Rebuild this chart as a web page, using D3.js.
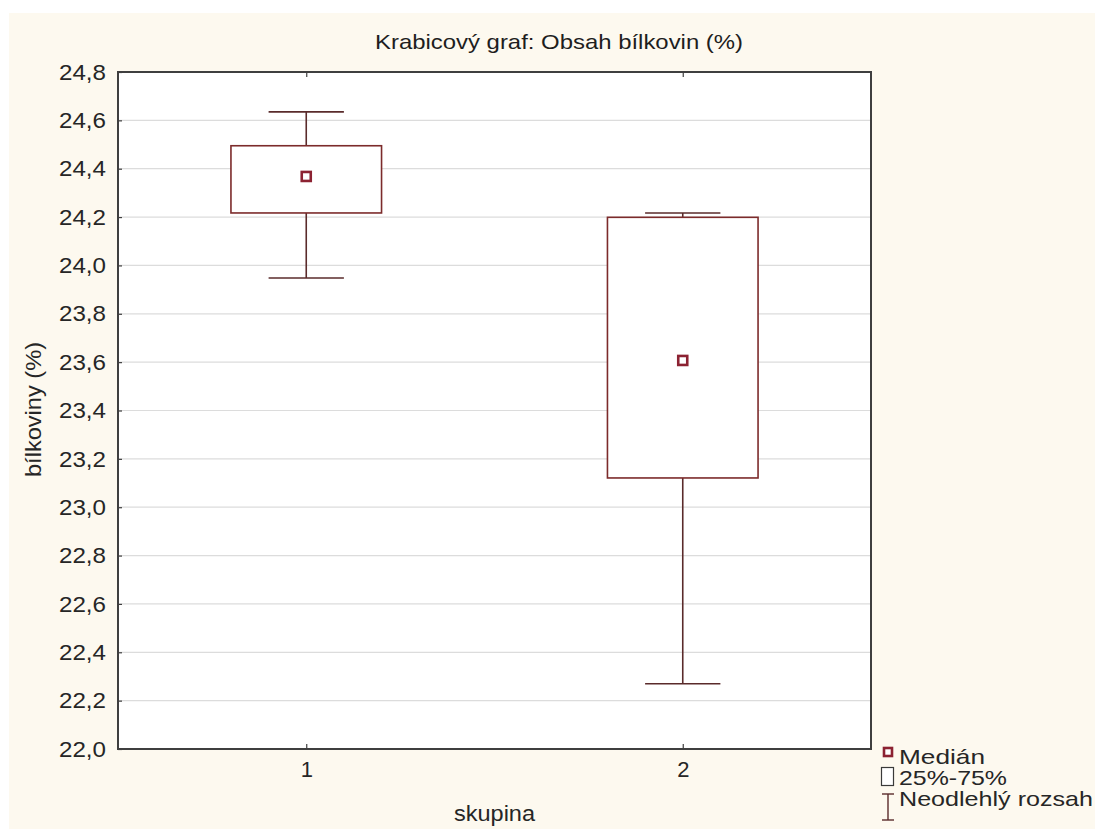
<!DOCTYPE html>
<html>
<head>
<meta charset="utf-8">
<script src="https://cdn.jsdelivr.net/npm/d3@7"></script>
<style>
  html, body { margin: 0; padding: 0; background: #ffffff; }
  svg { display: block; font-family: "Liberation Sans", Arial, sans-serif; }
</style>
</head>
<body>
<svg id="chart" width="1095" height="829"></svg>
<script>
// Group labels and box-plot statistics (bílkoviny, %)
const groups      = ["1", "2"];
const whiskerHigh = [24.635, 24.217];
const q3          = [24.495, 24.199];
const medians     = [24.368, 23.607];
const q1          = [24.217, 23.121];
const whiskerLow  = [23.948, 22.270];

const yTicks = [22.0, 22.2, 22.4, 22.6, 22.8, 23.0, 23.2, 23.4, 23.6, 23.8, 24.0, 24.2, 24.4, 24.6, 24.8];

const legendLabels = ["Medián", "25%-75%", "Neodlehlý rozsah"];
const legendWidths = [86, 108, 194];

const svg = d3.select("#chart");
const plot = { left: 118, right: 871, top: 72, bottom: 749 };

const boxColor = "#7c2b2b";
const whiskerColor = "#5a2b2b";
const medianColor = "#8c2232";
const axisColor = "#3f3f3f";
const textColor = "#262626";

// Page background
svg.append("rect").attr("x", 9).attr("y", 13).attr("width", 1086).attr("height", 816)
  .attr("fill", "#fdf9ef");

const x = d3.scaleLinear().domain([0.5, 2.5]).range([plot.left, plot.right]);
const y = d3.scaleLinear().domain([22.0, 24.8]).range([plot.bottom, plot.top]);

// Plot area
svg.append("rect")
  .attr("x", plot.left).attr("y", plot.top)
  .attr("width", plot.right - plot.left).attr("height", plot.bottom - plot.top)
  .attr("fill", "#ffffff");

// Horizontal grid lines
svg.append("g")
  .selectAll("line")
  .data(yTicks.slice(1, -1))
  .join("line")
  .attr("x1", plot.left).attr("x2", plot.right)
  .attr("y1", d => y(d)).attr("y2", d => y(d))
  .attr("stroke", "#dcdcdc").attr("stroke-width", 1.2);

const fmt = d => d.toFixed(1).replace(".", ",");

// Y axis (ticks inside the frame)
const yAxis = svg.append("g")
  .attr("transform", `translate(${plot.left},0)`)
  .call(d3.axisLeft(y).tickValues(yTicks).tickFormat(fmt).tickSize(-4).tickPadding(12));
yAxis.select(".domain").remove();
yAxis.selectAll(".tick line").attr("stroke", axisColor).attr("stroke-width", 1.2);
yAxis.selectAll(".tick text")
  .attr("font-size", 22.5).attr("fill", textColor)
  .attr("font-family", "Liberation Sans, Arial, sans-serif")
  .attr("textLength", 47).attr("lengthAdjust", "spacingAndGlyphs");

// X axis (ticks inside the frame, at top and bottom)
const xAxis = svg.append("g")
  .attr("transform", `translate(0,${plot.bottom})`)
  .call(d3.axisBottom(x).tickValues([1, 2]).tickFormat((d, i) => groups[i]).tickSize(-5).tickPadding(12));
xAxis.select(".domain").remove();
xAxis.selectAll(".tick line").attr("stroke", axisColor).attr("stroke-width", 1.2);
xAxis.selectAll(".tick text")
  .attr("font-size", 22).attr("fill", textColor)
  .attr("font-family", "Liberation Sans, Arial, sans-serif");

const xTop = svg.append("g")
  .attr("transform", `translate(0,${plot.top})`)
  .call(d3.axisTop(x).tickValues([1, 2]).tickFormat("").tickSize(-5));
xTop.select(".domain").remove();
xTop.selectAll(".tick line").attr("stroke", axisColor).attr("stroke-width", 1.2);

// Frame
svg.append("rect")
  .attr("x", plot.left).attr("y", plot.top)
  .attr("width", plot.right - plot.left).attr("height", plot.bottom - plot.top)
  .attr("fill", "none").attr("stroke", axisColor).attr("stroke-width", 2);

// Boxes
const boxHalf = 0.2;   // in category units
const capHalf = 0.1;
const stats = groups.map((g, i) => ({
  pos: i + 1, hi: whiskerHigh[i], q3: q3[i], med: medians[i], q1: q1[i], lo: whiskerLow[i]
}));

const bp = svg.append("g");

// Whisker stems
bp.selectAll("line.stem-hi").data(stats).join("line")
  .attr("x1", d => x(d.pos)).attr("x2", d => x(d.pos))
  .attr("y1", d => y(d.q3)).attr("y2", d => y(d.hi))
  .attr("stroke", whiskerColor).attr("stroke-width", 1.6);
bp.selectAll("line.stem-lo").data(stats).join("line")
  .attr("x1", d => x(d.pos)).attr("x2", d => x(d.pos))
  .attr("y1", d => y(d.q1)).attr("y2", d => y(d.lo))
  .attr("stroke", whiskerColor).attr("stroke-width", 1.6);

// Whisker caps
bp.selectAll("line.cap-hi").data(stats).join("line")
  .attr("x1", d => x(d.pos - capHalf)).attr("x2", d => x(d.pos + capHalf))
  .attr("y1", d => y(d.hi)).attr("y2", d => y(d.hi))
  .attr("stroke", whiskerColor).attr("stroke-width", 1.6);
bp.selectAll("line.cap-lo").data(stats).join("line")
  .attr("x1", d => x(d.pos - capHalf)).attr("x2", d => x(d.pos + capHalf))
  .attr("y1", d => y(d.lo)).attr("y2", d => y(d.lo))
  .attr("stroke", whiskerColor).attr("stroke-width", 1.6);

// Interquartile boxes
bp.selectAll("rect.box").data(stats).join("rect")
  .attr("x", d => x(d.pos - boxHalf))
  .attr("width", d => x(d.pos + boxHalf) - x(d.pos - boxHalf))
  .attr("y", d => y(d.q3))
  .attr("height", d => y(d.q1) - y(d.q3))
  .attr("fill", "#ffffff").attr("stroke", boxColor).attr("stroke-width", 1.6);

// Median markers
const ms = 9;
bp.selectAll("rect.med").data(stats).join("rect")
  .attr("x", d => x(d.pos) - ms / 2).attr("y", d => y(d.med) - ms / 2)
  .attr("width", ms).attr("height", ms)
  .attr("fill", "#ffffff").attr("stroke", medianColor).attr("stroke-width", 2.6);

// Title
svg.append("text")
  .attr("x", 559).attr("y", 49)
  .attr("text-anchor", "middle")
  .attr("font-size", 21).attr("fill", "#1e1e1e")
  .attr("textLength", 368).attr("lengthAdjust", "spacingAndGlyphs")
  .text("Krabicový graf: Obsah bílkovin (%)");

// Axis titles
svg.append("text")
  .attr("x", 494.5).attr("y", 821)
  .attr("text-anchor", "middle")
  .attr("font-size", 22).attr("fill", textColor)
  .attr("textLength", 81).attr("lengthAdjust", "spacingAndGlyphs")
  .text("skupina");

svg.append("text")
  .attr("transform", `translate(41,409.5) rotate(-90)`)
  .attr("text-anchor", "middle")
  .attr("font-size", 22).attr("fill", textColor)
  .attr("textLength", 135).attr("lengthAdjust", "spacingAndGlyphs")
  .text("bílkoviny (%)");

// Legend
const lg = svg.append("g");
lg.append("rect")
  .attr("x", 884).attr("y", 748).attr("width", 8).attr("height", 8)
  .attr("fill", "#ffffff").attr("stroke", medianColor).attr("stroke-width", 2.6);
lg.append("rect")
  .attr("x", 881.5).attr("y", 767.5).attr("width", 12).attr("height", 18)
  .attr("fill", "#ffffff").attr("stroke", "#3a3a3a").attr("stroke-width", 1.2);
lg.append("line").attr("x1", 888).attr("x2", 888).attr("y1", 794).attr("y2", 820)
  .attr("stroke", whiskerColor).attr("stroke-width", 1.4);
lg.append("line").attr("x1", 882).attr("x2", 894).attr("y1", 794).attr("y2", 794)
  .attr("stroke", whiskerColor).attr("stroke-width", 1.4);
lg.append("line").attr("x1", 882).attr("x2", 894).attr("y1", 820).attr("y2", 820)
  .attr("stroke", whiskerColor).attr("stroke-width", 1.4);

lg.selectAll("text").data(legendLabels).join("text")
  .attr("x", 899).attr("y", (d, i) => 763.5 + i * 21)
  .attr("font-size", 21).attr("fill", textColor)
  .attr("textLength", (d, i) => legendWidths[i]).attr("lengthAdjust", "spacingAndGlyphs")
  .text(d => d);
</script>
</body>
</html>
